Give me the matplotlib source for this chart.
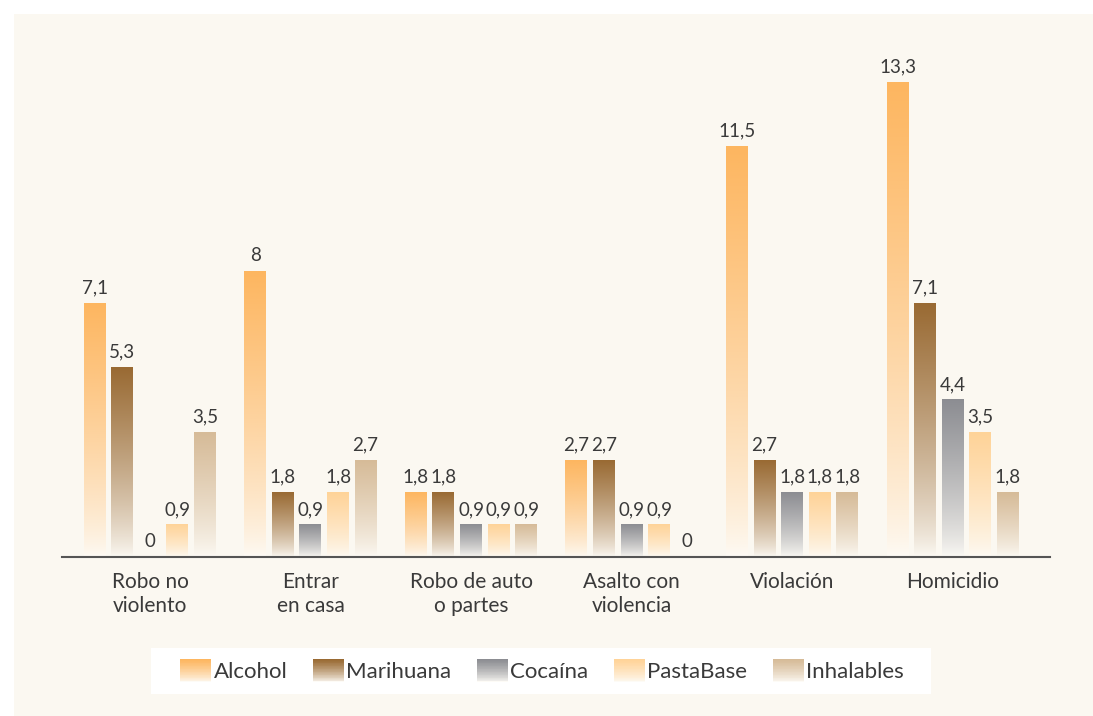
import numpy as np
import matplotlib.pyplot as plt
from matplotlib.patches import Rectangle, Patch
from matplotlib.colors import to_rgb
from matplotlib.legend_handler import HandlerBase

categories = ['Robo no\nviolento', 'Entrar\nen casa', 'Robo de auto\no partes',
              'Asalto con\nviolencia', 'Violación', 'Homicidio']
drugs = ['Alcohol', 'Marihuana', 'Cocaína', 'PastaBase', 'Inhalables']

alcohol = [7.1, 8.0, 1.8, 2.7, 11.5, 13.3]
marihuana = [5.3, 1.8, 1.8, 2.7, 2.7, 7.1]
cocaina = [0.0, 0.9, 0.9, 0.9, 1.8, 4.4]
pastabase = [0.9, 1.8, 0.9, 0.9, 1.8, 3.5]
inhalables = [3.5, 2.7, 0.9, 0.0, 1.8, 1.8]
series = [alcohol, marihuana, cocaina, pastabase, inhalables]

colors = ['#fdb660', '#996a33', '#8c8d92', '#ffd398', '#d6bb98']
cream = '#fbf8f1'
fade = '#fdfbf6'
text_col = '#3a3a3a'

plt.rcParams['font.family'] = ['Lato', 'DejaVu Sans']


def gradient(color, n=256):
    '''Column of colours going from the faded bottom to the full colour on top.'''
    top = np.array(to_rgb(color))
    bot = np.array(to_rgb(fade))
    t = np.linspace(0, 1, n) ** 0.75
    rgb = bot[None, :] + (top - bot)[None, :] * t[:, None]
    return rgb[:, None, :]


class GradientHandler(HandlerBase):
    def create_artists(self, legend, orig_handle, xdescent, ydescent,
                       width, height, fontsize, trans):
        col = gradient(orig_handle.get_facecolor(), n=30)[:, 0, :]
        n = len(col)
        strips = []
        for k in range(n):
            strips.append(Rectangle((-xdescent, -ydescent + k * height / n),
                                    width, height / n + 0.3,
                                    facecolor=col[k], edgecolor='none',
                                    transform=trans))
        return strips


fig = plt.figure(figsize=(10.93, 7.16), dpi=100, facecolor='white')
fig.patches.append(Rectangle((14 / 1093, 0), 1, 1 - 14 / 716,
                             transform=fig.transFigure, facecolor=cream,
                             edgecolor='none', zorder=-5))
# white box behind the legend
fig.patches.append(Rectangle((151 / 1093, 1 - 694 / 716), 780 / 1093, 46 / 716,
                             transform=fig.transFigure, facecolor='white',
                             edgecolor='none', zorder=-4))

ax = fig.add_axes([62 / 1093, 159 / 716, 988 / 1093, 497 / 716])
ax.set_facecolor('none')

pitch = 0.1715
width = 0.137
x = np.arange(len(categories))
for j, vals in enumerate(series):
    for i, v in enumerate(vals):
        xc = x[i] + (j - 2) * pitch
        if v > 0:
            ax.imshow(gradient(colors[j]), extent=[xc - width / 2, xc + width / 2, 0, v],
                      origin='lower', aspect='auto', interpolation='bilinear', zorder=2)
        lab = ('%.1f' % v).replace('.', ',') if v % 1 else '%d' % v
        ax.annotate(lab, (xc, v), xytext=(0, 5), textcoords='offset points',
                    ha='center', va='bottom', fontsize=13.5, color=text_col)

ax.set_xlim(-0.548, 5.607)
ax.set_ylim(0, 13.92)
ax.set_xticks(x)
ax.set_xticklabels(categories, fontsize=15, color=text_col, linespacing=1.28)
ax.tick_params(axis='x', length=0, pad=10.5)
ax.set_yticks([])
for s in ['top', 'right', 'left']:
    ax.spines[s].set_visible(False)
ax.spines['bottom'].set_color('#555555')
ax.spines['bottom'].set_linewidth(1.5)
ax.spines['bottom'].set_zorder(3)

handles = [Patch(facecolor=c) for c in colors]
leg = fig.legend(handles, drugs, loc='center', bbox_to_anchor=(542 / 1093, 1 - 671 / 716),
                 ncol=5, frameon=False, fontsize=16,
                 handler_map={Patch: GradientHandler()},
                 handlelength=1.4, handleheight=1.17, handletextpad=0.1,
                 columnspacing=1.15, borderpad=0.3, borderaxespad=0)
for t in leg.get_texts():
    t.set_color(text_col)

fig.savefig('out.png', dpi=100, facecolor='white')
